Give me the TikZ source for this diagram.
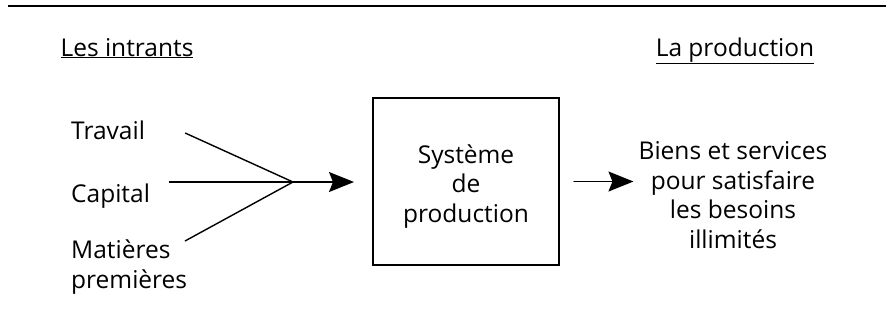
\documentclass[tikz,border=0pt]{standalone}
\usepackage{fontspec}
\setmainfont{Open Sans}
\usetikzlibrary{arrows.meta}

\tikzset{
	lbl/.style={font=\fontsize{24.5}{29.5}\selectfont, inner sep=0pt, align=center},
	fleche/.style={->, line width=1.4pt, line cap=round},
	trait/.style={line width=1.4pt}
}

\begin{document}
\begin{tikzpicture}[x=1pt, y=-1pt, >={Stealth[length=25pt, width=20pt, inset=4pt]}]
		\useasboundingbox (0,0) rectangle (886,325);
		\draw[line width=2pt] (8,6) -- (886,6);
		\node[lbl, anchor=base] (intrants) at (127,56) {\underline{Les intrants}};
		\node[lbl, anchor=base] (prod) at (735,56) {\underline{La production}};
		
		\node[lbl, anchor=base west] (trav) at (71,139) {Travail};
		\node[lbl, anchor=base west] (cap) at (71,202) {Capital};
		\node[lbl, anchor=base west, align=left] (mat) at (71,288) {Matières\\premières};
		\coordinate (conv) at (293,182);
		
		\node[draw, line width=2pt, minimum width=186pt, minimum height=167pt] (sys) at (466,181.5) {};
		\node[lbl, anchor=base] (systxt) at (466,222) {Système\\de\\production};
		\node[lbl, anchor=base] (biens) at (733,248) {Biens et services\\pour satisfaire\\les besoins\\illimités};
		
		\draw[trait] ([xshift=40pt, yshift=6pt]trav.base east) -- (conv);
		\draw[trait] ([xshift=19pt, yshift=20pt]cap.base east) -- (conv);
		\draw[trait] ([xshift=114pt, yshift=47pt]mat.base west) -- (conv);
		\draw[fleche, shorten >=18pt] (conv) -- (conv -| sys.west);
		\draw[fleche, shorten <=14pt, shorten >=5pt] (sys.east) -- (sys.east -| biens.west);
	\end{tikzpicture}
\end{document}
